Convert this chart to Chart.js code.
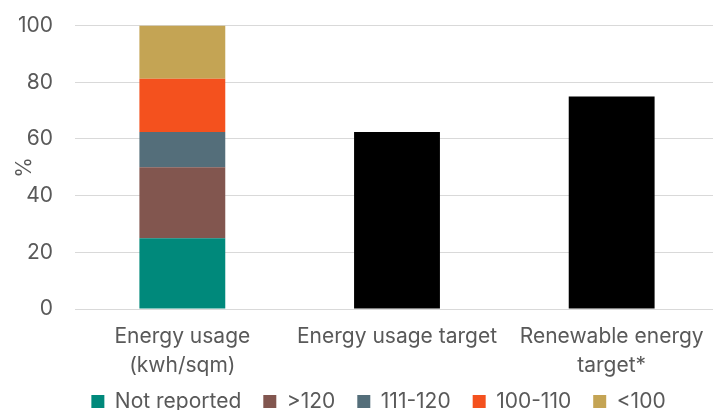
<!DOCTYPE html>
<html>
<head>
<meta charset="utf-8">
<script src="https://cdn.jsdelivr.net/npm/chart.js@4/dist/chart.umd.min.js"></script>
<style>
  html, body { margin: 0; padding: 0; background: #ffffff; overflow: hidden; }
  #wrap { position: relative; width: 757px; height: 447px; margin-top: -9px; }
</style>
</head>
<body>
<div id="wrap"><canvas id="chart"></canvas></div>
<script>
// Categories along the x axis (multi-line labels as arrays)
const categories = [
  ['Energy usage', '(kwh/sqm)'],
  'Energy usage target',
  ['Renewable energy', 'target*']
];

// Energy usage bands (% of respondents), first category only
const notReported = [25, null, null];
const over120     = [25, null, null];
const from111to120 = [12.5, null, null];
const from100to110 = [18.75, null, null];
const under100    = [18.75, null, null];

// Share with energy targets
const targetShares = [null, 62.5, 75];

// Y axis ticks
const yTicks = [0, 20, 40, 60, 80, 100];

const textColor = '#595959';
const fontFamily = 'Inter, "Noto Sans", sans-serif';

Chart.defaults.font.family = fontFamily;
Chart.defaults.font.size = 21;
Chart.defaults.color = textColor;

// Pull the legend row up closer to the category labels
const legendLift = {
  id: 'legendLift',
  afterLayout(chart) {
    if (chart.legend) {
      chart.legend.top -= 16;
      chart.legend.bottom -= 16;
    }
  }
};

new Chart(document.getElementById('chart'), {
  type: 'bar',
  data: {
    labels: categories,
    datasets: [
      { label: 'Not reported', data: notReported, backgroundColor: '#00897B' },
      { label: '>120', data: over120, backgroundColor: '#82564F' },
      { label: '111-120', data: from111to120, backgroundColor: '#546E7A' },
      { label: '100-110', data: from100to110, backgroundColor: '#F4511E' },
      { label: '<100', data: under100, backgroundColor: '#C4A454' },
      { label: 'Target', data: targetShares, backgroundColor: '#000000' }
    ]
  },
  plugins: [legendLift],
  options: {
    responsive: true,
    maintainAspectRatio: false,
    animation: false,
    devicePixelRatio: 1,
    datasets: {
      bar: { barPercentage: 0.4, categoryPercentage: 1.0 }
    },
    layout: { padding: { top: 6, left: 0, right: 0, bottom: 0 } },
    plugins: {
      tooltip: { enabled: false },
      legend: {
        position: 'bottom',
        labels: {
          boxWidth: 13,
          boxHeight: 13,
          padding: 22,
          color: textColor,
          font: { size: 21 },
          filter: (item) => item.text !== 'Target'
        }
      }
    },
    scales: {
      x: {
        stacked: true,
        grid: { display: false },
        border: { display: false },
        ticks: {
          color: textColor,
          font: { size: 21, lineHeight: 1.38 },
          padding: 5,
          maxRotation: 0,
          autoSkip: false
        }
      },
      y: {
        stacked: true,
        min: 0,
        max: 100,
        afterBuildTicks: (axis) => { axis.ticks = yTicks.map(v => ({ value: v })); },
        afterFit: (axis) => { axis.width = 75; },
        grid: { color: '#d9d9d9', lineWidth: 1, drawTicks: false },
        border: { display: false },
        ticks: { color: textColor, font: { size: 21 }, padding: 22 },
        title: {
          display: true,
          text: '%',
          color: textColor,
          font: { size: 21 },
          padding: { top: 12, bottom: 0 }
        }
      },
      yRight: {
        position: 'right',
        display: true,
        afterFit: (axis) => { axis.width = 38; },
        grid: { display: false, drawTicks: false },
        border: { display: false },
        ticks: { display: false }
      }
    }
  }
});
</script>
</body>
</html>
